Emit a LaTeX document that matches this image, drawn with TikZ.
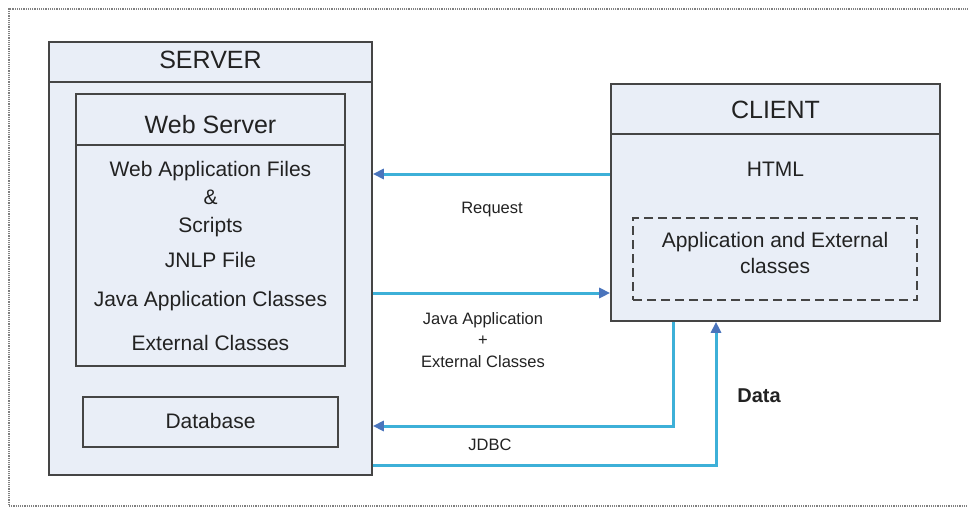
\documentclass[tikz,border=0pt]{standalone}
\usepackage{fontspec}
\setmainfont{Liberation Sans}
\usetikzlibrary{arrows.meta}
\definecolor{boxfill}{HTML}{E9EEF7}
\definecolor{boxline}{HTML}{454545}
\definecolor{flow}{HTML}{3DB0D8}
\definecolor{tipblue}{HTML}{4A74BC}
\definecolor{txt}{HTML}{222222}
\begin{document}
\begin{tikzpicture}[x=1pt,y=-1pt,
  box/.style={draw=boxline, fill=boxfill, line width=1.6pt, rectangle, inner sep=0pt},
  dbox/.style={draw=boxline, dashed, dash pattern=on 9pt off 5pt, line width=1.6pt, rectangle, inner sep=0pt},
  lbl/.style={text=txt, inner sep=0pt, text depth=0pt},
  title/.style={lbl, text height=18pt, font=\fontsize{25}{30}\selectfont},
  body/.style={lbl, text height=15.1pt, font=\fontsize{21}{26}\selectfont},
  small/.style={lbl, text height=11.8pt, font=\fontsize{16.5}{20}\selectfont},
  flowline/.style={draw=flow, line width=3pt},
  flowarrow/.style={flowline, -{Triangle[length=11pt,width=10pt,color=tipblue]}}
]
\useasboundingbox (0,0) rectangle (968,508);
\draw[gray, densely dotted, line width=1.2pt] (975,9) -- (9,9) -- (9,506) -- (975,506);

% SERVER
\node[box, minimum width=323pt, minimum height=433pt] (server) at (210.5,258.5) {};
\draw[boxline, line width=1.4pt] (server.west |- 0,82) -- (server.east |- 0,82);
\node[title] (servert) at (210.5,60) {SERVER};

\node[box, minimum width=269pt, minimum height=272pt] (web) at (210.5,230) {};
\draw[boxline, line width=1.4pt] (web.west |- 0,145) -- (web.east |- 0,145);
\node[title] (webt) at (210.5,124) {Web Server};
\node[body] (w1) at (210.5,169) {Web Application Files};
\node[body] (w2) at (210.5,197) {\&};
\node[body] (w3) at (210.5,225) {Scripts};
\node[body] (w4) at (210.5,260) {JNLP File};
\node[body] (w5) at (210.5,299) {Java Application Classes};
\node[body] (w6) at (210.5,343) {External Classes};

\node[box, minimum width=255pt, minimum height=50pt] (db) at (210.5,422) {};
\node[body] (dbt) at (210.5,421) {Database};

% CLIENT
\node[box, minimum width=329pt, minimum height=237pt] (client) at (775.5,202.5) {};
\draw[boxline, line width=1.4pt] (client.west |- 0,134) -- (client.east |- 0,134);
\node[title] (clientt) at (775.5,109) {CLIENT};
\node[body] (html) at (775.5,169) {HTML};
\node[dbox, minimum width=284pt, minimum height=82pt] (app) at (775,259) {};
\node[body] (app1) at (775,240) {Application and External};
\node[body] (app2) at (775,266) {classes};

% connectors
\coordinate (yreq) at (0,174);
\coordinate (yjava) at (0,293);
\coordinate (xjdbc) at (673,426);
\coordinate (xdata) at (716,465);
\draw[flowarrow] (client.west |- yreq) -- (server.east |- yreq);
\draw[flowarrow] (server.east |- yjava) -- (client.west |- yjava);
\draw[flowarrow] (client.south -| xjdbc) -- (xjdbc) -- (server.east |- xjdbc);
\draw[flowarrow] (server.east |- xdata) -- (xdata) -- (client.south -| xdata);

% labels
\node[small] (lreq) at (492,208) {Request};
\node[small] (lj1) at (483,319) {Java Application};
\node[small] (lj2) at (483,340) {+};
\node[small] (lj3) at (483,362) {External Classes};
\node[small] (ljdbc) at (490,445) {JDBC};
\node[lbl, text height=14.4pt, font=\fontsize{20}{24}\selectfont\bfseries] (ldata) at (759,395) {Data};
\end{tikzpicture}
\end{document}
